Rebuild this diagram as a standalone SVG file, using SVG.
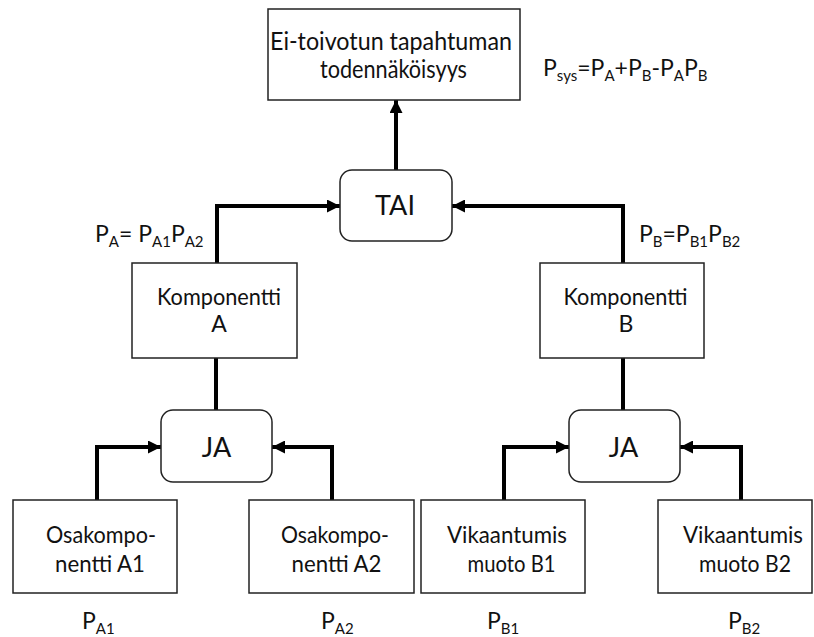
<svg xmlns="http://www.w3.org/2000/svg" width="814" height="637" viewBox="0 0 814 637">
  <defs>
    <marker id="arrow" viewBox="0 0 13 13" refX="13" refY="6.5" markerWidth="13" markerHeight="13" markerUnits="userSpaceOnUse" orient="auto">
      <path d="M0,0 L13,6.5 L0,13 Z" fill="#000"/>
    </marker>
    <style>
      .box { fill: #fff; stroke: #222; stroke-width: 1.5; }
      .gate { fill: #fff; stroke: #222; stroke-width: 1.5; }
      .lbl { font-family: Lato, "Liberation Sans", sans-serif; font-size: 23px; fill: #111; text-anchor: middle; }
      .big { font-size: 25px; }
      .gl { font-family: Lato, "Liberation Sans", sans-serif; font-size: 27px; fill: #111; text-anchor: middle; }
      .eq { font-family: Lato, "Liberation Sans", sans-serif; font-size: 23px; fill: #111; }
      .sub { font-size: 15px; }
      .wire { fill: none; stroke: #000; stroke-width: 4; }
      .wire-a { fill: none; stroke: #000; stroke-width: 4; marker-end: url(#arrow); }
    </style>
  </defs>

  <rect width="814" height="637" fill="#fff"/>

  <!-- connectors -->
  <g id="connectors">
    <path class="wire-a" d="M396,170 V100"/>
    <path class="wire-a" d="M217,263 V206 H340"/>
    <path class="wire-a" d="M623,263 V206 H452"/>
    <path class="wire" d="M216,358 V410"/>
    <path class="wire" d="M623,358 V410"/>
    <path class="wire-a" d="M97,500 V447 H161"/>
    <path class="wire-a" d="M332,500 V447 H272"/>
    <path class="wire-a" d="M504,500 V447 H569"/>
    <path class="wire-a" d="M741,500 V447 H680"/>
  </g>

  <!-- top event -->
  <g id="top-event">
    <rect class="box" x="268" y="9" width="252" height="91"/>
    <text class="lbl big" x="391" y="50" textLength="242" lengthAdjust="spacingAndGlyphs">Ei-toivotun tapahtuman</text>
    <text class="lbl big" x="393.5" y="78" textLength="147" lengthAdjust="spacingAndGlyphs">todennäköisyys</text>
  </g>

  <text class="eq" x="543" y="76">P<tspan class="sub" dy="5">sys</tspan><tspan dy="-5">=P</tspan><tspan class="sub" dy="5">A</tspan><tspan dy="-5">+P</tspan><tspan class="sub" dy="5">B</tspan><tspan dy="-5">-P</tspan><tspan class="sub" dy="5">A</tspan><tspan dy="-5">P</tspan><tspan class="sub" dy="5">B</tspan></text>

  <!-- OR gate -->
  <g id="gate-tai">
    <rect class="gate" x="340" y="170" width="112" height="71" rx="12"/>
    <text class="gl" x="395" y="215">TAI</text>
  </g>

  <text class="eq" x="95" y="242">P<tspan class="sub" dy="5">A</tspan><tspan dy="-5">= P</tspan><tspan class="sub" dy="5">A1</tspan><tspan dy="-5">P</tspan><tspan class="sub" dy="5">A2</tspan></text>
  <text class="eq" x="639" y="242">P<tspan class="sub" dy="5">B</tspan><tspan dy="-5">=P</tspan><tspan class="sub" dy="5">B1</tspan><tspan dy="-5">P</tspan><tspan class="sub" dy="5">B2</tspan></text>

  <!-- components -->
  <g id="komponentti-a">
    <rect class="box" x="132" y="263" width="165" height="95"/>
    <text class="lbl" x="219" y="305" textLength="124" lengthAdjust="spacingAndGlyphs">Komponentti</text>
    <text class="lbl" x="219" y="332">A</text>
  </g>
  <g id="komponentti-b">
    <rect class="box" x="540" y="263" width="164" height="95"/>
    <text class="lbl" x="625.5" y="305" textLength="124" lengthAdjust="spacingAndGlyphs">Komponentti</text>
    <text class="lbl" x="626" y="332">B</text>
  </g>

  <!-- AND gates -->
  <g id="gate-ja-a">
    <rect class="gate" x="161" y="410" width="111" height="72" rx="12"/>
    <text class="gl" x="216.5" y="457">JA</text>
  </g>
  <g id="gate-ja-b">
    <rect class="gate" x="569" y="410" width="111" height="72" rx="12"/>
    <text class="gl" x="623.5" y="457">JA</text>
  </g>

  <!-- basic events -->
  <g id="osakomponentti-a1">
    <rect class="box" x="13" y="500" width="164" height="93"/>
    <text class="lbl" x="101" y="543" textLength="110" lengthAdjust="spacingAndGlyphs">Osakompo-</text>
    <text class="lbl" x="100" y="572" textLength="90" lengthAdjust="spacingAndGlyphs">nentti A1</text>
  </g>
  <g id="osakomponentti-a2">
    <rect class="box" x="249" y="500" width="165" height="93"/>
    <text class="lbl" x="335" y="543" textLength="108" lengthAdjust="spacingAndGlyphs">Osakompo-</text>
    <text class="lbl" x="336.5" y="572" textLength="90" lengthAdjust="spacingAndGlyphs">nentti A2</text>
  </g>
  <g id="vikaantumismuoto-b1">
    <rect class="box" x="421" y="500" width="164" height="93"/>
    <text class="lbl" x="507" y="543" textLength="120" lengthAdjust="spacingAndGlyphs">Vikaantumis</text>
    <text class="lbl" x="511.5" y="572" textLength="88" lengthAdjust="spacingAndGlyphs">muoto B1</text>
  </g>
  <g id="vikaantumismuoto-b2">
    <rect class="box" x="658" y="500" width="154" height="93"/>
    <text class="lbl" x="743" y="543" textLength="120" lengthAdjust="spacingAndGlyphs">Vikaantumis</text>
    <text class="lbl" x="745" y="572" textLength="92" lengthAdjust="spacingAndGlyphs">muoto B2</text>
  </g>

  <!-- basic event probabilities -->
  <text class="eq" x="82" y="629">P<tspan class="sub" dy="5">A1</tspan></text>
  <text class="eq" x="321" y="629">P<tspan class="sub" dy="5">A2</tspan></text>
  <text class="eq" x="487" y="629">P<tspan class="sub" dy="5">B1</tspan></text>
  <text class="eq" x="728" y="629">P<tspan class="sub" dy="5">B2</tspan></text>
</svg>
